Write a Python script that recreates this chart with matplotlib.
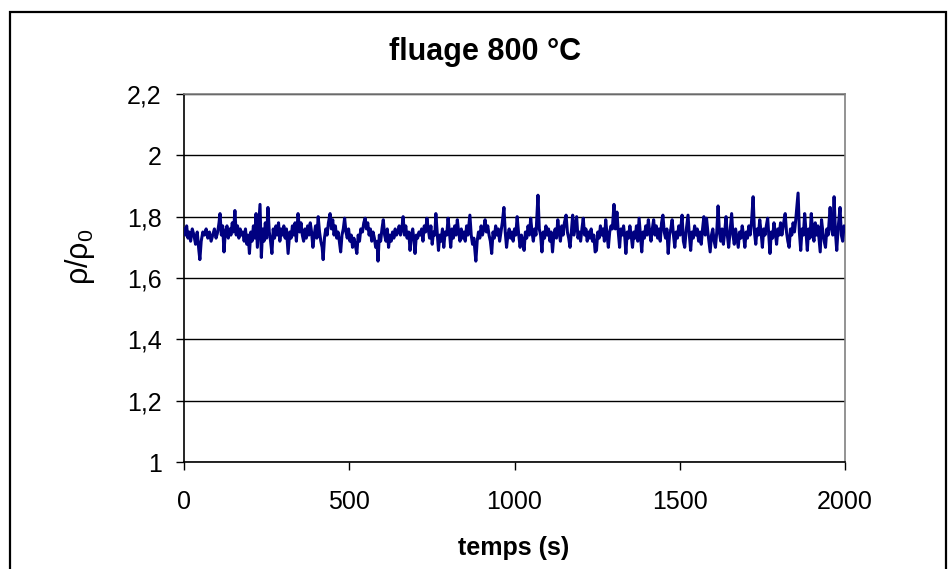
import matplotlib
matplotlib.use("Agg")
import matplotlib.pyplot as plt
from matplotlib.patches import Rectangle

plt.rcParams['font.family'] = ['Liberation Sans', 'DejaVu Sans']
plt.rcParams['mathtext.fontset'] = 'custom'
plt.rcParams['mathtext.rm'] = 'Liberation Sans'
plt.rcParams['mathtext.default'] = 'regular'

# values (time in s, rho/rho0)
temps = [0, 4, 8, 12, 16, 20, 25, 30, 35, 40, 45, 48, 52, 57, 62, 67, 72, 77, 82, 87,
         92, 97, 102, 106, 109, 113, 117, 121, 125, 130, 134, 138, 142, 146, 150, 154, 158, 162, 166, 170,
         174, 178, 182, 186, 190, 194, 198, 202, 206, 210, 214, 218, 222, 226, 230, 234, 238, 242, 246, 250,
         254, 258, 262, 266, 270, 274, 278, 282, 286, 290, 294, 298, 302, 306, 310, 315, 320, 324, 328, 332,
         336, 340, 345, 350, 354, 358, 362, 366, 370, 374, 378, 382, 386, 390, 394, 398, 402, 406, 410, 414,
         418, 421, 425, 429, 433, 437, 442, 446, 450, 454, 458, 462, 466, 470, 474, 478, 482, 486, 490, 494,
         498, 502, 506, 510, 514, 518, 523, 527, 531, 535, 540, 544, 548, 552, 556, 560, 564, 568, 572, 576,
         580, 584, 587, 591, 595, 599, 603, 607, 611, 615, 619, 623, 627, 631, 635, 639, 643, 647, 651, 655,
         659, 663, 667, 671, 675, 680, 684, 688, 692, 696, 699, 703, 707, 711, 715, 719, 723, 727, 731, 735,
         739, 743, 747, 751, 755, 759, 762, 766, 770, 774, 778, 782, 786, 790, 795, 799, 803, 807, 811, 815,
         819, 823, 827, 831, 835, 839, 843, 847, 851, 855, 859, 865, 869, 873, 877, 883, 887, 891, 895, 899,
         903, 907, 911, 915, 919, 923, 927, 931, 935, 939, 943, 947, 951, 955, 959, 963, 968, 972, 976, 980,
         984, 988, 992, 996, 1000, 1004, 1008, 1012, 1017, 1021, 1025, 1029, 1033, 1037, 1041, 1045, 1049, 1053, 1057, 1061,
         1065, 1071, 1075, 1079, 1083, 1087, 1091, 1095, 1099, 1103, 1107, 1111, 1115, 1119, 1123, 1127, 1131, 1135, 1139, 1143,
         1147, 1151, 1156, 1160, 1164, 1168, 1172, 1176, 1180, 1184, 1188, 1192, 1196, 1200, 1204, 1208, 1212, 1216, 1220, 1224,
         1228, 1232, 1236, 1240, 1244, 1248, 1252, 1256, 1260, 1264, 1268, 1272, 1276, 1280, 1284, 1288, 1292, 1296, 1301, 1305,
         1310, 1314, 1318, 1322, 1326, 1330, 1334, 1337, 1341, 1345, 1349, 1353, 1357, 1361, 1365, 1369, 1373, 1377, 1381, 1385,
         1389, 1393, 1397, 1401, 1405, 1409, 1413, 1417, 1421, 1425, 1429, 1433, 1437, 1441, 1445, 1449, 1453, 1457, 1461, 1465,
         1469, 1473, 1477, 1481, 1485, 1489, 1493, 1497, 1501, 1507, 1511, 1515, 1519, 1525, 1529, 1533, 1537, 1541, 1545, 1549,
         1553, 1557, 1561, 1565, 1569, 1573, 1577, 1581, 1585, 1592, 1596, 1600, 1604, 1608, 1612, 1616, 1620, 1624, 1628, 1632,
         1636, 1640, 1644, 1648, 1652, 1657, 1661, 1665, 1669, 1673, 1677, 1681, 1685, 1689, 1693, 1697, 1701, 1705, 1709, 1713,
         1717, 1722, 1726, 1730, 1734, 1738, 1742, 1746, 1750, 1754, 1758, 1762, 1766, 1770, 1773, 1777, 1781, 1785, 1789, 1793,
         1797, 1801, 1805, 1809, 1813, 1819, 1823, 1827, 1831, 1835, 1839, 1843, 1847, 1851, 1858, 1862, 1866, 1870, 1874, 1878,
         1882, 1886, 1890, 1894, 1898, 1902, 1906, 1910, 1914, 1918, 1925, 1929, 1933, 1937, 1941, 1945, 1949, 1955, 1959, 1963,
         1967, 1971, 1975, 1979, 1985, 1989, 1993, 1997, 2000]

rho = [1.76, 1.74, 1.77, 1.73, 1.75, 1.72, 1.76, 1.74, 1.71, 1.75, 1.69, 1.66, 1.72, 1.75, 1.74, 1.76, 1.73, 1.75, 1.72, 1.74,
       1.76, 1.73, 1.75, 1.78, 1.81, 1.74, 1.77, 1.685, 1.75, 1.77, 1.73, 1.76, 1.74, 1.78, 1.75, 1.82, 1.74, 1.77, 1.73, 1.76,
       1.74, 1.75, 1.72, 1.76, 1.71, 1.74, 1.68, 1.75, 1.72, 1.77, 1.73, 1.81, 1.70, 1.77, 1.84, 1.667, 1.76, 1.72, 1.78, 1.73,
       1.83, 1.75, 1.72, 1.68, 1.76, 1.73, 1.77, 1.74, 1.78, 1.72, 1.76, 1.74, 1.77, 1.73, 1.76, 1.68, 1.75, 1.73, 1.77, 1.74,
       1.78, 1.72, 1.81, 1.75, 1.78, 1.74, 1.72, 1.76, 1.73, 1.77, 1.74, 1.78, 1.75, 1.70, 1.74, 1.77, 1.73, 1.80, 1.75, 1.72,
       1.70, 1.66, 1.73, 1.76, 1.74, 1.78, 1.81, 1.76, 1.79, 1.74, 1.77, 1.73, 1.75, 1.72, 1.685, 1.74, 1.76, 1.795, 1.75, 1.73,
       1.76, 1.72, 1.74, 1.70, 1.73, 1.71, 1.68, 1.74, 1.72, 1.76, 1.75, 1.78, 1.795, 1.76, 1.78, 1.74, 1.76, 1.72, 1.75, 1.73,
       1.70, 1.72, 1.655, 1.74, 1.72, 1.76, 1.79, 1.74, 1.72, 1.76, 1.70, 1.74, 1.72, 1.75, 1.73, 1.76, 1.74, 1.75, 1.77, 1.74,
       1.76, 1.80, 1.74, 1.77, 1.73, 1.75, 1.69, 1.74, 1.76, 1.72, 1.68, 1.74, 1.73, 1.75, 1.74, 1.76, 1.72, 1.77, 1.75, 1.795,
       1.76, 1.73, 1.77, 1.71, 1.75, 1.74, 1.81, 1.75, 1.69, 1.74, 1.72, 1.76, 1.70, 1.75, 1.74, 1.795, 1.75, 1.70, 1.76, 1.73,
       1.77, 1.74, 1.79, 1.75, 1.72, 1.76, 1.73, 1.75, 1.72, 1.77, 1.74, 1.805, 1.74, 1.71, 1.73, 1.655, 1.72, 1.75, 1.73, 1.77,
       1.74, 1.76, 1.79, 1.75, 1.77, 1.74, 1.72, 1.68, 1.75, 1.73, 1.77, 1.74, 1.76, 1.72, 1.75, 1.78, 1.83, 1.75, 1.70, 1.74,
       1.76, 1.73, 1.75, 1.72, 1.76, 1.74, 1.80, 1.75, 1.70, 1.74, 1.72, 1.69, 1.75, 1.73, 1.77, 1.74, 1.795, 1.75, 1.72, 1.76,
       1.74, 1.87, 1.76, 1.74, 1.685, 1.75, 1.73, 1.77, 1.74, 1.76, 1.72, 1.75, 1.685, 1.74, 1.76, 1.73, 1.79, 1.75, 1.72, 1.77,
       1.74, 1.78, 1.805, 1.75, 1.73, 1.70, 1.75, 1.805, 1.74, 1.77, 1.80, 1.73, 1.75, 1.72, 1.76, 1.795, 1.74, 1.76, 1.72, 1.75,
       1.73, 1.76, 1.72, 1.74, 1.685, 1.69, 1.75, 1.73, 1.77, 1.74, 1.76, 1.72, 1.79, 1.74, 1.70, 1.75, 1.77, 1.76, 1.84, 1.76,
       1.815, 1.75, 1.70, 1.76, 1.74, 1.77, 1.73, 1.68, 1.75, 1.73, 1.77, 1.74, 1.70, 1.75, 1.73, 1.77, 1.72, 1.795, 1.74, 1.685,
       1.75, 1.73, 1.77, 1.74, 1.79, 1.75, 1.72, 1.76, 1.79, 1.74, 1.77, 1.73, 1.76, 1.72, 1.78, 1.805, 1.75, 1.73, 1.76, 1.68,
       1.74, 1.76, 1.79, 1.74, 1.70, 1.75, 1.73, 1.77, 1.74, 1.805, 1.72, 1.70, 1.75, 1.805, 1.74, 1.69, 1.75, 1.73, 1.77, 1.74,
       1.76, 1.72, 1.75, 1.71, 1.76, 1.80, 1.74, 1.795, 1.75, 1.685, 1.74, 1.76, 1.72, 1.70, 1.75, 1.835, 1.75, 1.72, 1.76, 1.71,
       1.75, 1.80, 1.74, 1.70, 1.75, 1.81, 1.74, 1.71, 1.76, 1.73, 1.70, 1.75, 1.73, 1.77, 1.74, 1.70, 1.75, 1.73, 1.77, 1.74,
       1.78, 1.865, 1.75, 1.71, 1.76, 1.74, 1.79, 1.75, 1.70, 1.76, 1.74, 1.77, 1.795, 1.73, 1.68, 1.75, 1.73, 1.78, 1.75, 1.71,
       1.76, 1.74, 1.78, 1.74, 1.77, 1.81, 1.75, 1.72, 1.70, 1.76, 1.74, 1.78, 1.75, 1.79, 1.877, 1.75, 1.69, 1.76, 1.74, 1.81,
       1.75, 1.69, 1.76, 1.73, 1.81, 1.75, 1.72, 1.78, 1.74, 1.77, 1.685, 1.79, 1.75, 1.72, 1.70, 1.76, 1.74, 1.83, 1.76, 1.74,
       1.865, 1.75, 1.69, 1.76, 1.83, 1.74, 1.72, 1.77, 1.76]

yticks = [1, 1.2, 1.4, 1.6, 1.8, 2, 2.2]
ytick_labels = ["1", "1,2", "1,4", "1,6", "1,8", "2", "2,2"]
xticks = [0, 500, 1000, 1500, 2000]

W, H = 948, 569
fig = plt.figure(figsize=(W / 100, H / 100), dpi=100)
ax = fig.add_axes([184 / W, 1 - 462 / H, (845 - 184) / W, (462 - 94) / H])

ax.plot(temps, rho, color='#000080', lw=2.2, zorder=3)

ax.set_xlim(0, 2000)
ax.set_ylim(1, 2.2)
ax.set_xticks(xticks)
ax.set_xticklabels([str(t) for t in xticks], fontsize=18)
ax.set_yticks(yticks)
ax.set_yticklabels(ytick_labels, fontsize=18)
ax.tick_params(direction='out', length=6, width=1, color='black', pad=10)
ax.tick_params(axis='x', pad=14)
ax.grid(axis='y', color='black', lw=1)

for s in ['top', 'right']:
    ax.spines[s].set_color('#808080')
    ax.spines[s].set_linewidth(1.2)
for s in ['left', 'bottom']:
    ax.spines[s].set_color('black')
    ax.spines[s].set_linewidth(1.2)

fig.text(485 / W, 1 - 52 / H, 'fluage 800 °C', fontsize=22, fontweight='bold',
         ha='center', va='center')
fig.text(514 / W, 1 - 548 / H, 'temps (s)', fontsize=18, fontweight='bold',
         ha='center', va='center')
fig.text(80 / W, 1 - 257 / H, 'ρ/ρ$_0$', fontsize=22, rotation=90,
         ha='center', va='center')

# outer chart border
fig.patches.append(Rectangle((10 / W, -0.05), (946 - 10) / W, 1.05 - 12 / H,
                             transform=fig.transFigure, fill=False,
                             edgecolor='black', lw=1.6))

fig.savefig('out.png', dpi=100)
